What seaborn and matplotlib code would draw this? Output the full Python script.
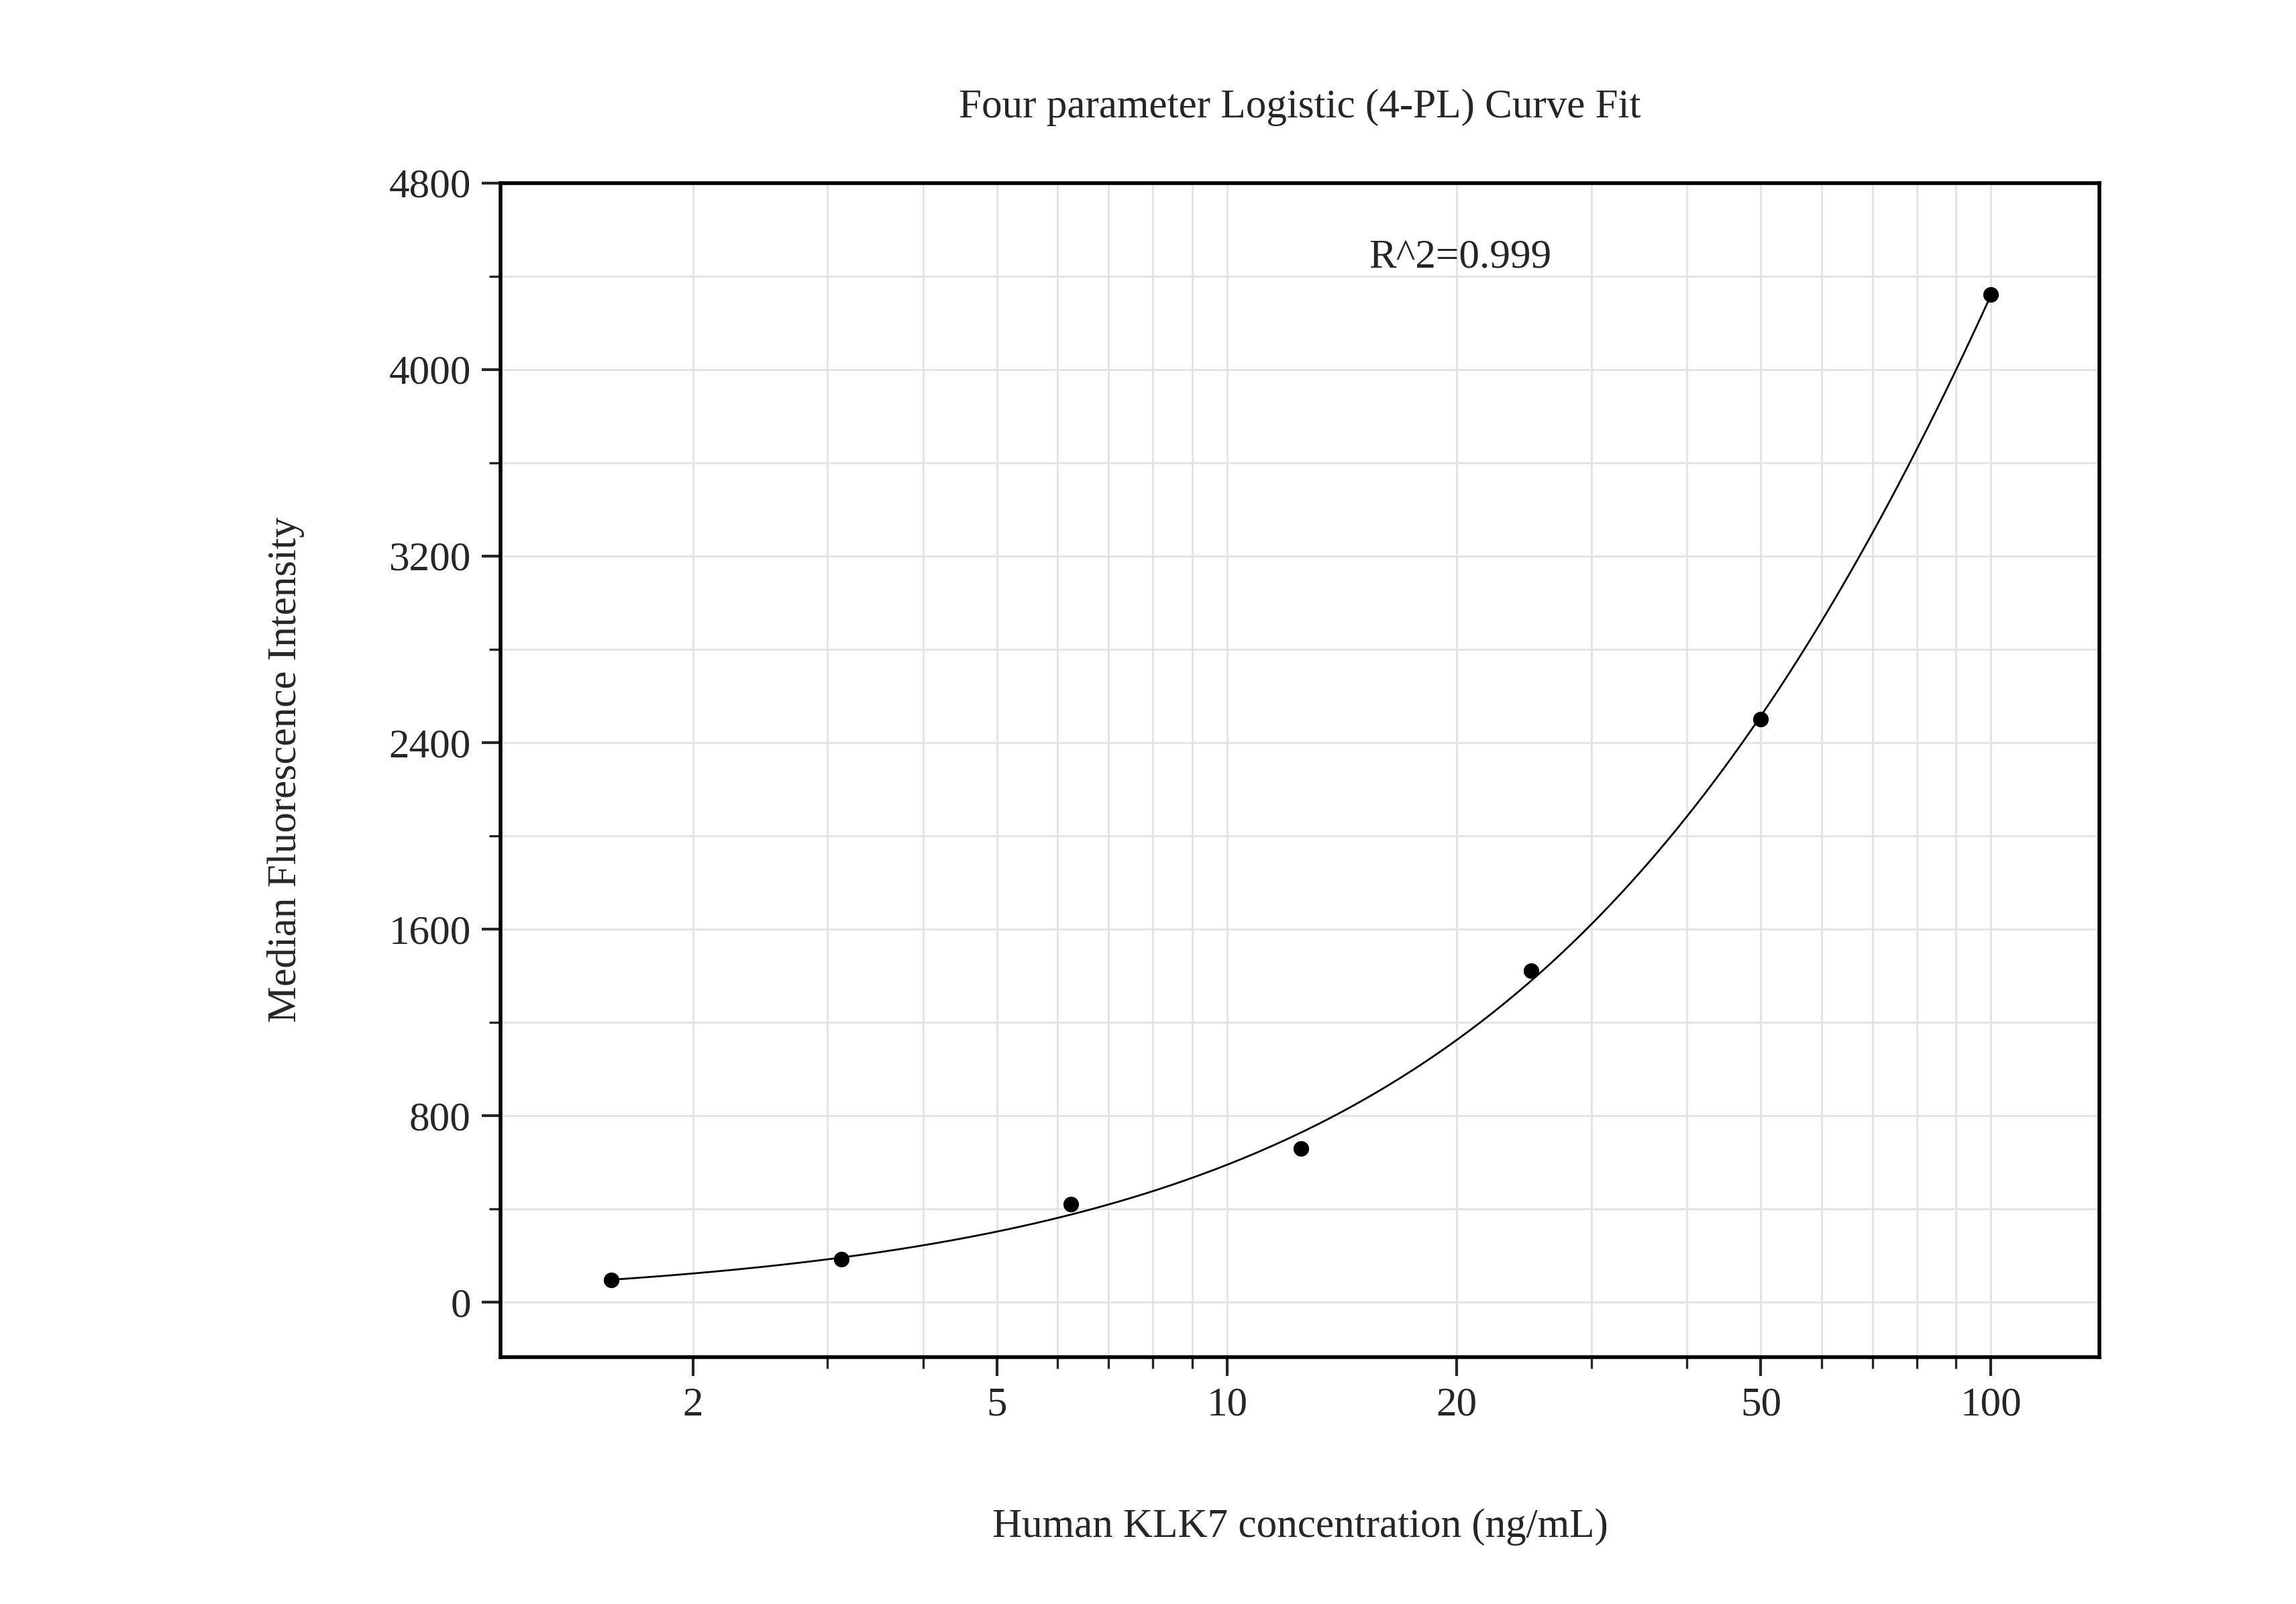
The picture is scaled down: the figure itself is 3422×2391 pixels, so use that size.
import numpy as np
import pandas as pd
import matplotlib
matplotlib.use("Agg")
import matplotlib.pyplot as plt
from matplotlib.ticker import FixedLocator, NullFormatter, MultipleLocator
import seaborn as sns

# Standard curve data
concentration = [1.5625, 3.125, 6.25, 12.5, 25, 50, 100]
mfi = [95, 185, 420, 660, 1420, 2500, 4320]
r2_label = "R^2=0.999"

df = pd.DataFrame({"conc": concentration, "mfi": mfi})

# 4PL fit: grid over C and B, A and D solved by least squares
x = np.array(concentration)
y = np.array(mfi, dtype=float)
best = None
for c in np.logspace(0, 4, 400):
    for b in np.linspace(0.3, 3.0, 271):
        g = 1.0 / (1.0 + (x / c) ** b)
        M = np.column_stack([g, 1 - g])
        coef, *_ = np.linalg.lstsq(M, y, rcond=None)
        sse = np.sum((M @ coef - y) ** 2)
        if best is None or sse < best[0]:
            best = (sse, coef[0], coef[1], c, b)
_, A, D, C, B = best
xs = np.logspace(np.log10(1.5625), 2, 300)
fit = pd.DataFrame({"conc": xs, "mfi": D + (A - D) / (1 + (xs / C) ** B)})

sns.set_style("white")
plt.rcParams["font.family"] = "Liberation Serif"
fig = plt.figure(figsize=(17.115, 11.955), dpi=200)
ax = fig.add_axes([0.218, 0.154, 0.696, 0.732])

sns.lineplot(data=fit, x="conc", y="mfi", ax=ax, color="black", linewidth=1.0)
sns.scatterplot(data=df, x="conc", y="mfi", ax=ax, color="black", s=60, edgecolor="black", zorder=3)

ax.set_xscale("log")
ax.set_xlim(1.12, 138.6)
ax.set_ylim(-235, 4800)
ax.xaxis.set_major_locator(FixedLocator([2, 5, 10, 20, 50, 100]))
ax.set_xticklabels(["2", "5", "10", "20", "50", "100"])
minors = [v * 10 ** k for k in range(0, 3) for v in range(1, 10)]
ax.xaxis.set_minor_locator(FixedLocator(minors))
ax.xaxis.set_minor_formatter(NullFormatter())
ax.yaxis.set_major_locator(MultipleLocator(800))
ax.yaxis.set_minor_locator(MultipleLocator(400))

ax.grid(True, which="both", color="#e3e3e3", linewidth=1.0)
ax.set_axisbelow(True)
for s in ax.spines.values():
    s.set_linewidth(2.0)
    s.set_color("black")
ax.tick_params(which="major", direction="out", length=10, width=1.5, labelsize=22,
               left=True, bottom=True, right=False, top=False, pad=6)
ax.tick_params(which="minor", direction="out", length=6, width=1.2,
               left=True, bottom=True, right=False, top=False)

ax.set_xlabel("Human KLK7 concentration (ng/mL)", fontsize=22, labelpad=45)
ax.set_ylabel("Median Fluorescence Intensity", fontsize=22, labelpad=45)
ax.set_title("Four parameter Logistic (4-PL) Curve Fit", fontsize=22, pad=35)
ax.text(0.543, 0.936, r2_label, transform=ax.transAxes, fontsize=22, va="center", ha="left")

fig.savefig("out.png", dpi=200)
